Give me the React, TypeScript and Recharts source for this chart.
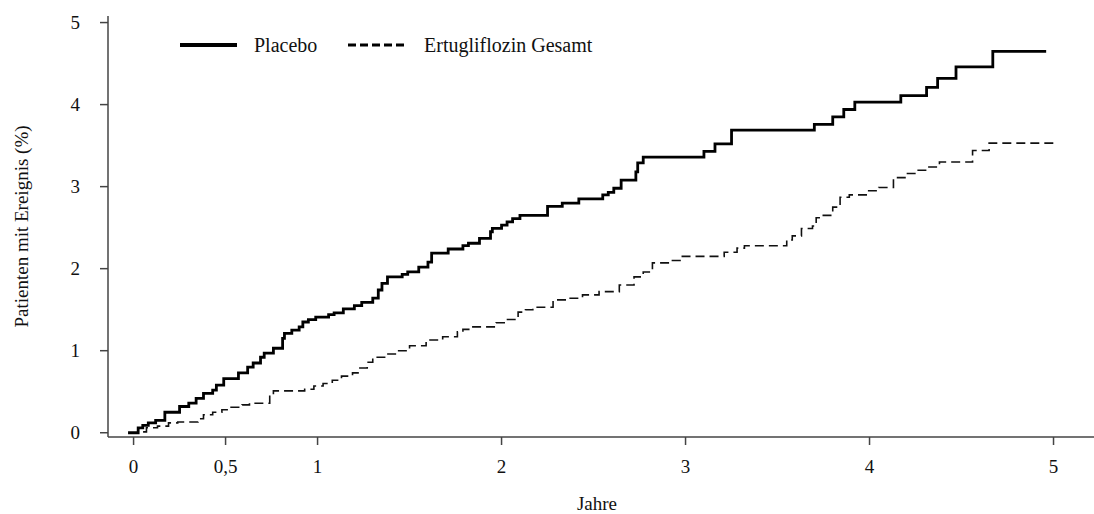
import React from 'react';
import { LineChart, Line, XAxis, YAxis, Legend } from 'recharts';

const placeboT = [-0.03, 0.025, 0.05, 0.08, 0.12, 0.17, 0.25, 0.30, 0.34, 0.38, 0.43, 0.45, 0.49, 0.57, 0.62, 0.65, 0.69, 0.71, 0.76, 0.81, 0.82, 0.86, 0.90, 0.92, 0.95, 0.99, 1.06, 1.09, 1.14, 1.20, 1.24, 1.30, 1.33, 1.35, 1.38, 1.46, 1.49, 1.55, 1.60, 1.62, 1.71, 1.79, 1.82, 1.88, 1.94, 1.95, 2.00, 2.03, 2.06, 2.10, 2.25, 2.33, 2.42, 2.55, 2.58, 2.61, 2.65, 2.73, 2.74, 2.77, 3.10, 3.16, 3.25, 3.70, 3.80, 3.86, 3.92, 4.17, 4.31, 4.37, 4.47, 4.67, 4.96];
const placeboY = [0, 0.06, 0.09, 0.12, 0.15, 0.25, 0.32, 0.36, 0.42, 0.48, 0.52, 0.58, 0.66, 0.73, 0.80, 0.85, 0.92, 0.97, 1.03, 1.15, 1.21, 1.25, 1.29, 1.35, 1.38, 1.41, 1.44, 1.46, 1.51, 1.55, 1.59, 1.64, 1.74, 1.82, 1.90, 1.93, 1.96, 2.02, 2.08, 2.19, 2.24, 2.28, 2.31, 2.37, 2.45, 2.49, 2.53, 2.57, 2.61, 2.65, 2.76, 2.80, 2.85, 2.90, 2.93, 2.98, 3.08, 3.18, 3.29, 3.36, 3.43, 3.52, 3.69, 3.76, 3.85, 3.94, 4.03, 4.11, 4.21, 4.32, 4.46, 4.65, 4.65];

const ertuT = [-0.02, 0.035, 0.07, 0.13, 0.19, 0.24, 0.35, 0.38, 0.43, 0.48, 0.53, 0.59, 0.63, 0.74, 0.76, 0.93, 0.98, 1.03, 1.08, 1.13, 1.19, 1.22, 1.27, 1.30, 1.37, 1.43, 1.50, 1.59, 1.68, 1.76, 1.79, 1.83, 1.97, 2.02, 2.09, 2.13, 2.17, 2.28, 2.36, 2.44, 2.53, 2.64, 2.72, 2.77, 2.82, 2.92, 2.97, 3.21, 3.28, 3.32, 3.55, 3.58, 3.63, 3.69, 3.71, 3.74, 3.80, 3.84, 3.89, 3.99, 4.05, 4.13, 4.20, 4.26, 4.31, 4.38, 4.56, 4.65, 5.02];
const ertuY = [0, 0.01, 0.06, 0.08, 0.12, 0.13, 0.17, 0.22, 0.25, 0.28, 0.31, 0.34, 0.36, 0.46, 0.51, 0.53, 0.57, 0.60, 0.64, 0.69, 0.73, 0.79, 0.86, 0.92, 0.96, 1.00, 1.06, 1.13, 1.17, 1.23, 1.26, 1.29, 1.34, 1.38, 1.47, 1.50, 1.53, 1.62, 1.64, 1.68, 1.72, 1.80, 1.90, 1.96, 2.07, 2.10, 2.15, 2.20, 2.25, 2.28, 2.35, 2.40, 2.49, 2.52, 2.62, 2.65, 2.75, 2.87, 2.90, 2.95, 2.99, 3.11, 3.16, 3.20, 3.24, 3.30, 3.44, 3.53, 3.53];

const xTicks = [0, 0.5, 1, 2, 3, 4, 5];
const yTicks = [0, 1, 2, 3, 4, 5];
const seriesNames = ['Placebo', 'Ertugliflozin Gesamt'];
const xTitle = 'Jahre';
const yTitle = 'Patienten mit Ereignis (%)';

const placeboData = placeboT.map((t, i) => ({ t, y: placeboY[i] }));
const ertuData = ertuT.map((t, i) => ({ t, y: ertuY[i] }));

const FONT = "'Liberation Serif', 'Times New Roman', serif";
const AXIS = '#444';
const TEXT = '#111';

function LegendContent() {
  return (
    <svg width={1094} height={60} style={{ display: 'block' }}>
      <line x1={180} x2={237} y1={45} y2={45} stroke="#000" strokeWidth={4} />
      <text x={254} y={52} fontFamily={FONT} fontSize={20} fill={TEXT}>{seriesNames[0]}</text>
      <line x1={348} x2={405} y1={45} y2={45} stroke="#000" strokeWidth={3} strokeDasharray="8 4" />
      <text x={424} y={52} fontFamily={FONT} fontSize={20} fill={TEXT}>{seriesNames[1]}</text>
    </svg>
  );
}

function YTitle(props: any) {
  const vb = props.viewBox || { x: 0, y: 16, width: 108, height: 421 };
  const cx = vb.x + 28;
  const cy = vb.y + vb.height / 2;
  return (
    <text x={cx} y={cy} transform={`rotate(-90, ${cx}, ${cy})`} textAnchor="middle" fontFamily={FONT} fontSize={19} fill={TEXT}>
      {yTitle}
    </text>
  );
}

export default function App() {
  return (
    <div style={{ position: 'absolute', left: 0, top: 0, width: 1094, height: 514, background: '#fff' }}>
      <LineChart width={1094} height={514} margin={{ top: 16, right: 0, bottom: 0, left: 0 }}>
        <XAxis
          xAxisId="top"
          orientation="top"
          type="number"
          dataKey="t"
          domain={[-0.139, 5.22]}
          allowDataOverflow
          height={0}
          tick={false}
          tickLine={false}
          axisLine={{ stroke: AXIS, strokeWidth: 1.5 }}
        />
        <XAxis
          type="number"
          dataKey="t"
          domain={[-0.139, 5.22]}
          allowDataOverflow
          ticks={xTicks}
          interval={0}
          height={77}
          tickSize={8}
          tickMargin={15}
          tickFormatter={(v: number) => String(v).replace('.', ',')}
          tick={{ fontFamily: FONT, fontSize: 19, fill: TEXT }}
          tickLine={{ stroke: AXIS, strokeWidth: 1.5 }}
          axisLine={{ stroke: AXIS, strokeWidth: 1.5 }}
          label={{ value: xTitle, position: 'insideBottom', offset: 4, dx: -4, style: { fontFamily: FONT, fontSize: 19, fill: TEXT } }}
        />
        <YAxis
          type="number"
          domain={[-0.052, 5.08]}
          allowDataOverflow
          ticks={yTicks}
          interval={0}
          width={108}
          tickSize={8}
          tickMargin={20}
          tick={{ fontFamily: FONT, fontSize: 19, fill: TEXT }}
          tickLine={{ stroke: AXIS, strokeWidth: 1.5 }}
          axisLine={{ stroke: AXIS, strokeWidth: 1.5 }}
          label={{ content: (p: any) => <YTitle {...p} /> }}
        />
        <Legend
          layout="horizontal"
          verticalAlign="middle"
          align="center"
          content={() => <LegendContent />}
          wrapperStyle={{ position: 'absolute', left: 0, top: 0, width: 1094, height: 60, margin: 0, padding: 0 }}
        />
        <Line
          name={seriesNames[1]}
          data={ertuData}
          dataKey="y"
          type="stepAfter"
          stroke="#111"
          strokeWidth={1.6}
          strokeDasharray="9 5"
          dot={false}
          activeDot={false}
          isAnimationActive={false}
        />
        <Line
          name={seriesNames[0]}
          data={placeboData}
          dataKey="y"
          type="stepAfter"
          stroke="#000"
          strokeWidth={2.8}
          dot={false}
          activeDot={false}
          isAnimationActive={false}
        />
      </LineChart>
    </div>
  );
}
